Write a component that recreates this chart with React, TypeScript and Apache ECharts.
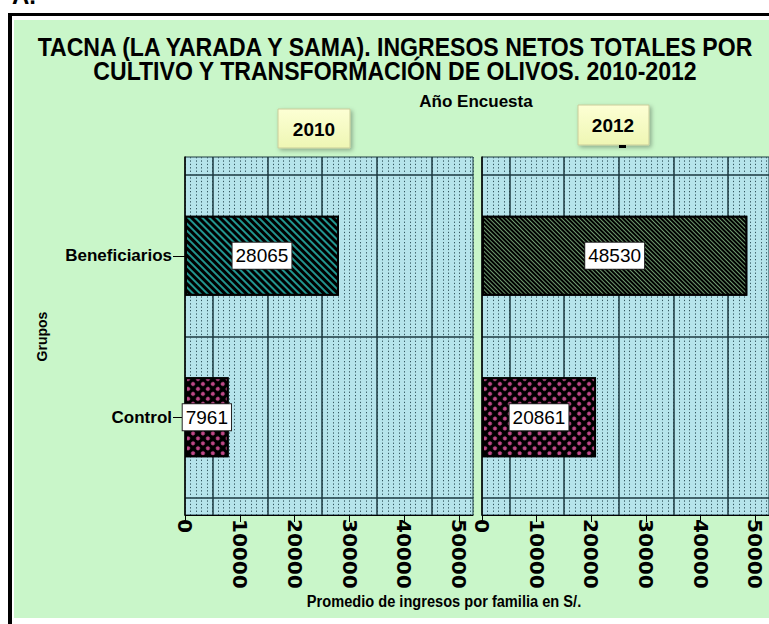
import React, { useEffect, useRef } from 'react';
import * as echarts from 'echarts';

const groups = ['Beneficiarios', 'Control'];
const years = ['2010', '2012'];
const values2010 = [28065, 7961];
const values2012 = [48530, 20861];
const axisMax = 52500;
const majorGridValues = [5000, 15000, 25000, 35000, 45000];
const titleText =
  'TACNA (LA YARADA Y SAMA). INGRESOS NETOS TOTALES POR\nCULTIVO Y TRANSFORMACIÓN DE OLIVOS. 2010-2012';
const panelTitle = 'Año Encuesta';
const yName = 'Grupos';
const xName = 'Promedio de ingresos por familia en S/.';

const GRID_LINE = '#1d3a40';
const PANEL_BG = '#b6e4eb';

const crossDecal = {
  symbol: 'circle',
  symbolSize: 1,
  color: '#c2498a',
  backgroundColor: '#000',
  dashArrayX: [3.5, 2.4],
  dashArrayY: [3.5, 2.4],
  rotation: Math.PI / 4,
};

const barStyles = [
  [
    {
      color: '#000',
      borderColor: '#000',
      borderWidth: 2,
      decal: {
        symbol: 'rect',
        color: '#22958f',
        backgroundColor: '#000',
        dashArrayX: [1, 0],
        dashArrayY: [2, 2.2],
        rotation: Math.PI / 4,
      },
    },
    { color: '#000', borderColor: '#000', borderWidth: 2, decal: crossDecal },
  ],
  [
    {
      color: '#000',
      borderColor: '#000',
      borderWidth: 2,
      decal: {
        symbol: 'rect',
        color: '#6f9a6f',
        backgroundColor: '#0b180b',
        dashArrayX: [1, 0],
        dashArrayY: [1, 1.6],
        rotation: Math.PI / 4,
      },
    },
    { color: '#000', borderColor: '#000', borderWidth: 2, decal: crossDecal },
  ],
];

export default function App() {
  const ref = useRef<HTMLDivElement>(null);
  useEffect(() => {
    document.body.style.margin = '0';
    if (!ref.current) return;
    const chart = echarts.init(ref.current, undefined, { renderer: 'svg' });

    const panels = [
      { left: 185, width: 288, values: values2010 },
      { left: 482, width: 287, values: values2012 },
    ];

    const grid: any[] = [];
    const xAxis: any[] = [];
    const yAxis: any[] = [];
    const series: any[] = [];

    panels.forEach((p, pi) => {
      const gBack = grid.length;
      grid.push({
        left: p.left, top: 157, width: p.width, height: 358,
        show: true, backgroundColor: PANEL_BG, borderColor: GRID_LINE, borderWidth: 1,
      });
      const gData = grid.length;
      grid.push({ left: p.left, top: 175, width: p.width, height: 323 });

      xAxis.push({
        gridIndex: gBack, type: 'value', min: 0, max: axisMax, interval: 10000, position: 'bottom',
        axisLine: { show: true, onZero: false, lineStyle: { color: '#000', width: 1 } },
        axisTick: { show: true, length: 7, lineStyle: { color: '#000' } },
        axisLabel: {
          rotate: -90, margin: 4, color: '#000', fontFamily: 'DejaVu Sans', fontWeight: 'bold', fontSize: 20,
          showMaxLabel: false,
          formatter: (v: number) => (v % 10000 === 0 ? String(v) : ''),
        },
        splitLine: { show: false },
      });
      const xDot = xAxis.length;
      xAxis.push({
        gridIndex: gBack, type: 'value', min: 0, max: axisMax, interval: 1000, position: 'top',
        axisLine: { show: false }, axisTick: { show: false }, axisLabel: { show: false },
        splitLine: { show: true, lineStyle: { color: '#34575f', width: 1, type: [1.3, 2.1] } },
      });
      const xBar = xAxis.length;
      xAxis.push({ gridIndex: gData, type: 'value', min: 0, max: axisMax, show: false });

      const yBack = yAxis.length;
      yAxis.push({
        gridIndex: gBack, type: 'value', min: 0, max: 1,
        axisLine: { show: true, lineStyle: { color: '#000', width: 1.5 } },
        axisTick: { show: false }, axisLabel: { show: false }, splitLine: { show: false },
      });
      const yCat = yAxis.length;
      yAxis.push({
        gridIndex: gData, type: 'category', data: groups, inverse: true,
        axisLine: { show: false },
        axisTick: { show: pi === 0, alignWithLabel: true, length: 12, lineStyle: { color: '#000' } },
        axisLabel: {
          show: pi === 0, margin: 13, color: '#000', fontFamily: 'Liberation Sans, Arial', fontWeight: 'bold', fontSize: 17,
        },
        splitLine: { show: true, lineStyle: { color: GRID_LINE, width: 1.5 } },
        name: pi === 0 ? yName : '',
        nameLocation: 'middle', nameGap: 136, nameRotate: 90,
        nameTextStyle: { color: '#000', fontFamily: 'Liberation Sans, Arial', fontWeight: 'bold', fontSize: 14 },
      });

      series.push({
        type: 'scatter', xAxisIndex: xDot, yAxisIndex: yBack, data: [], silent: true, z: 1,
        markLine: {
          silent: true, symbol: 'none', label: { show: false }, z: 1,
          lineStyle: { color: GRID_LINE, width: 1.5, type: 'solid' },
          data: majorGridValues.map((v) => ({ xAxis: v })),
        },
      });
      series.push({
        type: 'bar', xAxisIndex: xBar, yAxisIndex: yCat, barWidth: 80, z: 10,
        data: p.values.map((v, i) => ({ value: v, itemStyle: barStyles[pi][i] })),
        label: {
          show: true, position: 'inside', color: '#000', fontFamily: 'Liberation Sans, Arial', fontSize: 19,
          backgroundColor: '#fff', borderColor: '#222', borderWidth: 1, padding: [4, 3, 3, 3],
        },
      });
    });

    const boxFill = new echarts.graphic.LinearGradient(0, 0, 0, 1, [
      { offset: 0, color: '#fdffd4' },
      { offset: 1, color: '#eef6b4' },
    ]);

    const option: any = {
      animation: false,
      backgroundColor: 'transparent',
      grid, xAxis, yAxis, series,
      graphic: [
        { type: 'text', x: 12, y: 7, style: { text: 'A.', font: 'bold 24px "Liberation Sans", Arial', fill: '#000', textVerticalAlign: 'bottom' } },
        { type: 'text', x: 395, y: 59, scaleX: 0.887, style: { text: titleText, font: 'bold 26px "Liberation Sans", Arial', lineHeight: 24, fill: '#000', textAlign: 'center', textVerticalAlign: 'middle' } },
        { type: 'text', x: 476, y: 101, style: { text: panelTitle, font: 'bold 17px "Liberation Sans", Arial', fill: '#000', textAlign: 'center', textVerticalAlign: 'middle' } },
        { type: 'rect', shape: { x: 278, y: 109, width: 72, height: 39 }, style: { fill: boxFill, stroke: '#c9cc9a', lineWidth: 1, shadowBlur: 4, shadowOffsetX: 2, shadowOffsetY: 2, shadowColor: 'rgba(0,0,0,0.3)' } },
        { type: 'text', x: 314, y: 129, style: { text: years[0], font: 'bold 19px "Liberation Sans", Arial', fill: '#000', textAlign: 'center', textVerticalAlign: 'middle' } },
        { type: 'rect', shape: { x: 578, y: 105, width: 71, height: 40 }, style: { fill: boxFill, stroke: '#c9cc9a', lineWidth: 1, shadowBlur: 4, shadowOffsetX: 2, shadowOffsetY: 2, shadowColor: 'rgba(0,0,0,0.3)' } },
        { type: 'text', x: 613, y: 125, style: { text: years[1], font: 'bold 19px "Liberation Sans", Arial', fill: '#000', textAlign: 'center', textVerticalAlign: 'middle' } },
        { type: 'rect', shape: { x: 619, y: 145, width: 7, height: 3 }, style: { fill: '#000' } },
        { type: 'text', x: 444, y: 601, scaleX: 0.86, style: { text: xName, font: 'bold 17px "Liberation Sans", Arial', fill: '#000', textAlign: 'center', textVerticalAlign: 'middle' } },
      ],
    };
    chart.setOption(option);
    return () => chart.dispose();
  }, []);

  return (
    <div style={{ position: 'relative', width: 769, height: 624, overflow: 'hidden', background: '#fff' }}>
      <div style={{ position: 'absolute', left: 8, top: 13, width: 800, height: 700, background: '#000' }} />
      <div style={{ position: 'absolute', left: 12, top: 16, width: 800, height: 608, background: '#fff' }} />
      <div style={{ position: 'absolute', left: 14, top: 20, width: 755, height: 598, background: '#c9f6c9' }} />
      <div ref={ref} style={{ position: 'absolute', left: 0, top: 0, width: 769, height: 624 }} />
    </div>
  );
}
